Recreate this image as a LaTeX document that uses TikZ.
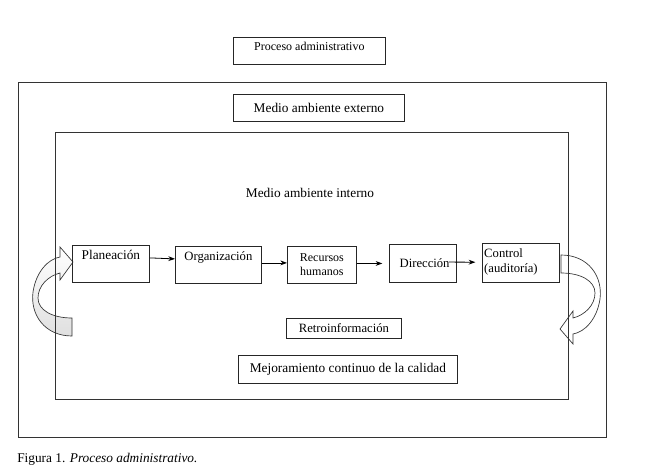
\documentclass[tikz,border=0pt]{standalone}
\usepackage{fontspec}
\setmainfont{Liberation Serif}
\usetikzlibrary{arrows.meta}
\tikzset{
  frame/.style={draw=black!80, line width=0.6pt},
  box/.style={draw=black!85, line width=0.6pt, inner sep=0pt, font=\fontsize{9.5}{11}\selectfont},
  flowarr/.style={draw=black, line width=0.6pt, -{Stealth[length=5pt,width=3.6pt]}},
  curvarr/.pic={
    \path[draw=black!80, line width=0.5pt, #1]
      (72,336) .. controls (45,336) and (30,315) .. (33,292)
      .. controls (36,272) and (48,259) .. (60,257)
      -- (60,247) -- (73,262) -- (60,280) -- (60,273)
      .. controls (48,276) and (38,286) .. (38,298)
      .. controls (38,310) and (52,318) .. (72,318) -- cycle;
  },
  curvarr/.default={fill=white}
}
\begin{document}
\begin{tikzpicture}[x=0.75pt,y=-0.75pt]
\useasboundingbox[fill=white] (0,0) rectangle (663,467);

% curved feedback arrows (behind the frames)
\pic at (0,0) {curvarr={top color=white, bottom color=gray!25}};
\pic[rotate=180] at (633,591) {curvarr={fill=white}};

% frames
\node[frame, minimum width=588*0.75pt, minimum height=355*0.75pt, anchor=north west] (outer) at (18,82) {};
\node[frame, minimum width=513*0.75pt, minimum height=267*0.75pt, anchor=north west] (inner) at (55,132) {};

% title box
\node[box, minimum width=152*0.75pt, minimum height=27*0.75pt, anchor=north west,
      text height=7pt, text depth=7pt, inner ysep=2pt, font=\fontsize{9}{11}\selectfont] (proc) at (233,37) {Proceso administrativo};

\node[box, minimum width=171*0.75pt, minimum height=27*0.75pt, anchor=north west,
      font=\fontsize{10}{12}\selectfont] (ext) at (233,94) {Medio ambiente externo};

\node[font=\fontsize{10}{12}\selectfont] (int) at (310,193) {Medio ambiente interno};

% process boxes
\node[box, minimum width=77*0.75pt, minimum height=37*0.75pt, anchor=north west,
      text height=7pt, text depth=13pt, font=\fontsize{10}{12}\selectfont] (plan) at (72,245) {Planeación};
\node[box, minimum width=86*0.75pt, minimum height=37*0.75pt, anchor=north west,
      text height=7pt, text depth=13pt] (org) at (175,246) {Organización};
\node[box, minimum width=69*0.75pt, minimum height=37*0.75pt, anchor=north west,
      align=center, font=\fontsize{9}{10.5}\selectfont] (rec) at (287,246) {Recursos\\humanos};
\node[box, minimum width=67*0.75pt, minimum height=38*0.75pt, anchor=north west,
      text width=40pt, align=right, inner xsep=3pt] (dir) at (389,244) {Dirección};
\node[box, minimum width=77*0.75pt, minimum height=39*0.75pt, anchor=north west,
      text width=55pt, align=left, inner xsep=1pt, inner ysep=0pt,
      text height=8pt, text depth=16pt, font=\fontsize{9.5}{11}\selectfont] (ctl) at (482,243) {Control\\(auditoría)};

% feedback and quality boxes
\node[box, minimum width=115*0.75pt, minimum height=20*0.75pt, anchor=north west] (retro) at (286,318) {Retroinformación};
\node[box, minimum width=219*0.75pt, minimum height=28*0.75pt, anchor=north west,
      font=\fontsize{10}{12}\selectfont] (mej) at (238,355) {Mejoramiento continuo de la calidad};

% flow arrows
\draw[flowarr] ([yshift=4.5pt]plan.east) -- ([yshift=4.5pt]org.west);
\draw[flowarr] ([yshift=1.5pt]org.east) -- ([yshift=1.5pt]rec.west);
\draw[flowarr, shorten >=5pt] ([yshift=1pt]rec.east) -- ([yshift=0pt]dir.west);
\draw[flowarr, shorten >=5pt] ([xshift=-6pt,yshift=1pt]dir.east) -- ([yshift=0.5pt]ctl.west);

% caption
\node[anchor=base west, inner sep=0pt, font=\fontsize{10}{12}\selectfont] (cap) at (17,462)
  {Figura 1. \textit{Proceso administrativo.}};
\end{tikzpicture}
\end{document}
